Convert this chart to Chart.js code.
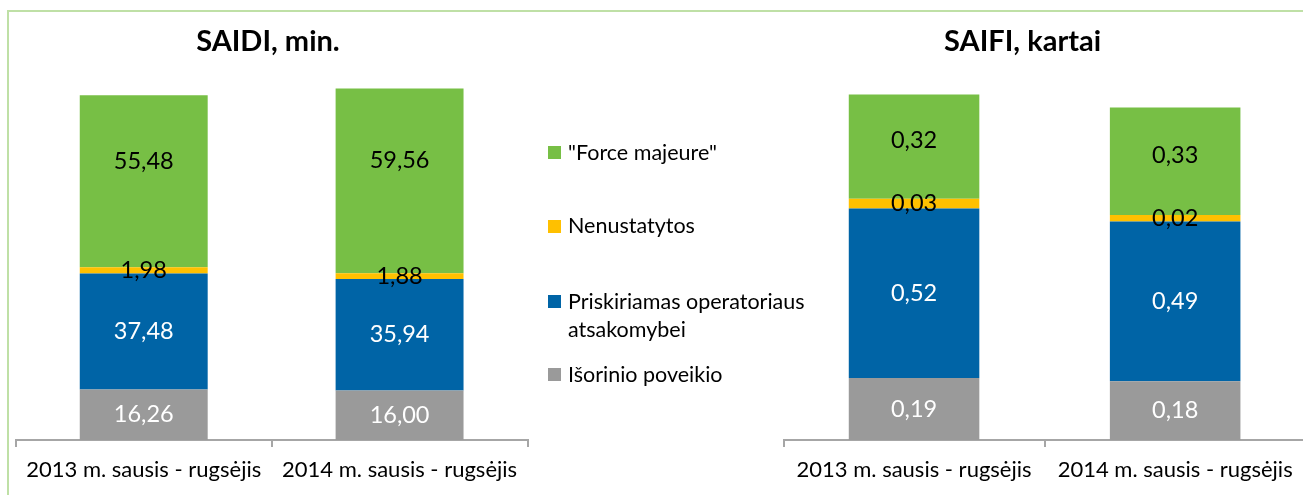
<!DOCTYPE html>
<html>
<head>
<meta charset="utf-8">
<script src="https://cdn.jsdelivr.net/npm/chart.js@4.4.1/dist/chart.umd.min.js"></script>
<style>
  html, body { margin: 0; padding: 0; background: #fff; }
  body { width: 1303px; height: 495px; overflow: hidden; position: relative; font-family: Lato, "Open Sans", sans-serif; }
  .frame { position: absolute; left: 7px; top: 10px; width: 1400px; height: 600px;
           border-left: 2px solid #bfe0a6; border-top: 2px solid #bfe0a6; }
  #saidiChart { position: absolute; left: 0; top: 0; }
  #saifiChart { position: absolute; left: 730px; top: 0; }
  #legend { position: absolute; left: 548px; top: 138px; z-index: 2; }
  #legend .item { display: flex; align-items: flex-start; font-size: 21.5px; line-height: 28.4px; color: #000; }
  #legend .box { width: 13px; height: 13px; margin-top: 8.3px; flex: none; }
  #legend .text { margin-left: 7px; max-width: 260px; }
  #legend .item:nth-child(2) { margin-top: 45px; }
  #legend .item:nth-child(3) { margin-top: 47px; }
  #legend .item:nth-child(4) { margin-top: 16px; }
</style>
</head>
<body>
<div class="frame"></div>
<canvas id="saidiChart" width="540" height="495"></canvas>
<canvas id="saifiChart" width="590" height="495"></canvas>
<div id="legend"></div>

<script>
"use strict";

// categories and series (stack order: bottom -> top)
var categories = ["2013 m. sausis - rugsėjis", "2014 m. sausis - rugsėjis"];
var seriesNames = ["Išorinio poveikio", "Priskiriamas operatoriaus atsakomybei", "Nenustatytos", "\"Force majeure\""];

// SAIDI, min.
var saidiIsorinio = [16.26, 16.00];
var saidiPriskiriamas = [37.48, 35.94];
var saidiNenustatytos = [1.98, 1.88];
var saidiForceMajeure = [55.48, 59.56];

// SAIFI, kartai
var saifiIsorinio = [0.19, 0.18];
var saifiPriskiriamas = [0.52, 0.49];
var saifiNenustatytos = [0.03, 0.02];
var saifiForceMajeure = [0.32, 0.33];

var seriesColors = ["#9a9a9a", "#0064a6", "#ffc000", "#77bf45"];
var labelColors = ["#ffffff", "#ffffff", "#000000", "#000000"];

var FONT = "Lato, 'Open Sans', sans-serif";

// value labels in the middle of each segment
var segmentLabels = {
  id: "segmentLabels",
  afterDatasetsDraw(chart, args, opts) {
    var ctx = chart.ctx;
    ctx.save();
    ctx.font = opts.size + "px " + FONT;
    ctx.textAlign = "center";
    ctx.textBaseline = "middle";
    chart.data.datasets.forEach((ds, i) => {
      chart.getDatasetMeta(i).data.forEach((bar, j) => {
        var y = (bar.y + bar.base) / 2 + (i === chart.data.datasets.length - 1 ? opts.topShift : 0);
        ctx.fillStyle = labelColors[i];
        ctx.fillText(ds.data[j].toFixed(2).replace(".", ","), bar.x, y);
      });
    });
    ctx.restore();
  }
};

function makeDatasets(series) {
  return series.map((data, i) => ({
    label: seriesNames[i],
    data: data,
    backgroundColor: seriesColors[i],
    borderWidth: 0,
    barPercentage: 0.5,
    categoryPercentage: 1.0,
  }));
}

function makeChart(id, title, series, yMax, yWidth, padding, titlePad, topShift) {
  var ctx = document.getElementById(id).getContext("2d");
  return new Chart(ctx, {
    type: "bar",
    data: {
      labels: categories,
      datasets: makeDatasets(series),
    },
    plugins: [segmentLabels],
    options: {
      responsive: false,
      animation: false,
      layout: { padding: padding },
      plugins: {
        legend: { display: false },
        tooltip: { enabled: false },
        title: {
          display: true,
          text: title,
          color: "#000",
          font: { family: FONT, size: 29, weight: "bold" },
          padding: titlePad,
        },
        segmentLabels: { size: 23.5, topShift: topShift },
      },
      scales: {
        x: {
          stacked: true,
          grid: { display: true, drawOnChartArea: false, drawTicks: true, tickLength: 7, color: "#a6a6a6", lineWidth: 2 },
          border: { display: true, color: "#a6a6a6", width: 2 },
          ticks: { color: "#000", padding: 9.8, font: { family: FONT, size: 22 } },
        },
        y: {
          stacked: true,
          min: 0,
          max: yMax,
          grid: { display: false },
          border: { display: false },
          ticks: { display: false },
          afterFit: (scale) => { scale.width = yWidth; },
        },
      },
    },
  });
}

makeChart("saidiChart", "SAIDI, min.",
  [saidiIsorinio, saidiPriskiriamas, saidiNenustatytos, saidiForceMajeure],
  120, 7.4, { left: 8.4, right: 12.5, top: 0, bottom: 2 }, { top: 24, bottom: 9.2 }, -20);

makeChart("saifiChart", "SAIFI, kartai",
  [saifiIsorinio, saifiPriskiriamas, saifiNenustatytos, saifiForceMajeure],
  1.1, 44, { left: 9.5, right: 14.3, top: 0, bottom: 2 }, { top: 24, bottom: 22.6 }, -6);

// legend, top entry first
var legend = document.getElementById("legend");
for (var i = seriesNames.length - 1; i >= 0; i--) {
  var item = document.createElement("div");
  item.className = "item";
  var box = document.createElement("span");
  box.className = "box";
  box.style.background = seriesColors[i];
  var text = document.createElement("span");
  text.className = "text";
  text.textContent = seriesNames[i];
  item.appendChild(box);
  item.appendChild(text);
  legend.appendChild(item);
}
</script>
</body>
</html>
